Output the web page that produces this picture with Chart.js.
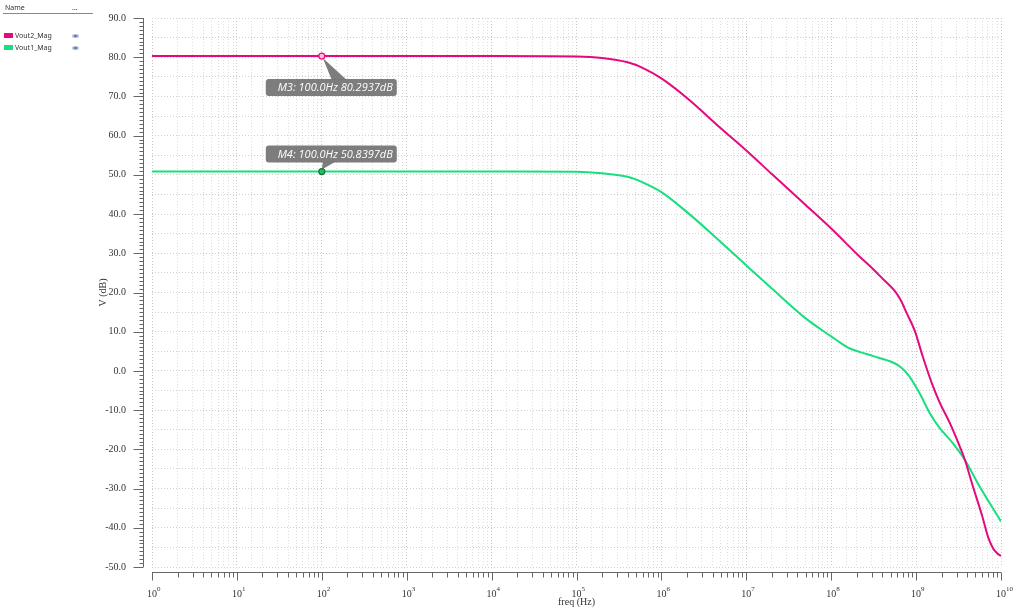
<!DOCTYPE html>
<html>
<head>
<meta charset="utf-8">
<script src="https://cdn.jsdelivr.net/npm/chart.js@4"></script>
<style>
  body { margin: 0; background: #fff; }
  #wrap { position: relative; width: 1023px; height: 614px; }
  #legend { position: absolute; left: 0; top: 0; width: 96px; font-family: "Noto Sans", sans-serif; font-size: 7px; color: #333; }
  #legend .head { position: absolute; left: 3px; top: 3px; width: 90px; height: 10px; border-bottom: 1px solid #888; }
  #legend .head span { position: absolute; top: 0; }
  #legend .row { position: absolute; left: 4px; height: 8px; line-height: 8px; }
  #legend .sw { position: absolute; left: 0; top: 1px; width: 9px; height: 5px; }
  #legend .lbl { position: absolute; left: 11px; top: 0; white-space: nowrap; }
  #legend .eye { position: absolute; left: 68px; top: 2px; width: 7px; height: 4px; border-radius: 50%; background: #b3bdd8; }
  #legend .eye::after { content: ""; position: absolute; left: 2px; top: 1px; width: 3px; height: 2px; border-radius: 50%; background: #5a6ea3; }
</style>
</head>
<body>
<div id="wrap">
  <canvas id="bode-chart" width="1023" height="614"></canvas>
  <div id="legend">
    <div class="head"><span style="left:2px">Name</span><span style="left:69px">...</span></div>
  </div>
</div>
<script>
// Vout2 magnitude trace (Hz, dB)
var vout2Freq = [1, 10, 100, 1e3, 1e4, 1e5, 2e5, 4e5, 6e5, 1e6, 2e6, 5e6, 1e7, 2e7, 5e7,
  1e8, 2.2e8, 3e8, 4e8, 5.6e8, 6.6e8, 7.8e8, 9.7e8, 1.2e9, 1.53e9, 1.91e9, 2.5e9, 3.29e9,
  3.76e9, 4.69e9, 5.97e9, 7.03e9, 8.05e9, 9e9, 1e10];
var vout2Mag = [80.29, 80.29, 80.29, 80.29, 80.29, 80.17, 79.8, 78.7, 77.3, 74.6, 69.6, 61.9, 56.2, 50.2, 42.3,
  36.3, 29.0, 26.3, 23.6, 20.4, 18.0, 14.6, 10.1, 3.6, -3.1, -8.2, -13.3, -19.4,
  -22.7, -29.6, -36.8, -42.3, -45.2, -46.5, -47.2];

// Vout1 magnitude trace (Hz, dB)
var vout1Freq = [1, 10, 100, 1e3, 1e4, 1e5, 2e5, 4e5, 6e5, 1e6, 2e6, 5e6, 1e7, 2e7, 5e7,
  1e8, 1.3e8, 1.6e8, 2.2e8, 3e8, 3.7e8, 5e8, 6.4e8, 8.2e8, 1.1e9, 1.45e9, 1.9e9,
  2.7e9, 3.76e9, 5.6e9, 7.5e9, 1e10];
var vout1Mag = [50.84, 50.84, 50.84, 50.84, 50.84, 50.8, 50.4, 49.5, 48.1, 45.6, 40.5, 32.9, 26.9, 21.0, 13.4,
  8.8, 7.1, 5.9, 4.8, 3.9, 3.3, 2.4, 1.2, -1.2, -5.7, -10.8, -14.6,
  -18.4, -22.7, -29.5, -34.0, -38.4];

var seriesNames = ['Vout2_Mag', 'Vout1_Mag'];
var seriesColors = ['#e5097f', '#17df80'];

// markers
var markerNames = ['M3', 'M4'];
var markerFreqs = [100, 100];
var markerVals = [80.2937, 50.8397];

var yTickValues = [90, 80, 70, 60, 50, 40, 30, 20, 10, 0, -10, -20, -30, -40, -50];

function pts(fs, vals) {
  return fs.map(function (f, i) { return { x: f, y: vals[i] }; });
}

// build legend rows
var legend = document.getElementById('legend');
seriesNames.forEach(function (name, i) {
  var row = document.createElement('div');
  row.className = 'row';
  row.style.top = (32 + i * 12) + 'px';
  row.innerHTML = '<span class="sw" style="background:' + seriesColors[i] + '"></span>' +
    '<span class="lbl">' + name + '</span><span class="eye"></span>';
  legend.appendChild(row);
});

var axisPlugin = {
  id: 'axisDeco',
  afterDraw: function (chart) {
    var c = chart.ctx, a = chart.chartArea;
    var xs = chart.scales.x, ys = chart.scales.y;
    c.save();
    c.strokeStyle = '#666';
    c.lineWidth = 1;

    // y axis line + ticks
    var ax = Math.round(a.left - 9) + 0.5;
    c.beginPath();
    c.moveTo(ax, a.top); c.lineTo(ax, a.bottom);
    for (var v = -50; v <= 90; v++) {
      var y = Math.round(ys.getPixelForValue(v)) + 0.5;
      var len = (v % 10 === 0) ? 10 : 4;
      c.moveTo(ax - len, y); c.lineTo(ax, y);
    }
    c.stroke();

    // x axis line + ticks
    var ay = Math.round(a.bottom + 5) + 0.5;
    c.beginPath();
    c.moveTo(a.left, ay); c.lineTo(a.right, ay);
    for (var d = 0; d <= 10; d++) {
      for (var m = 1; m <= 9; m++) {
        if (d === 10 && m > 1) break;
        var x = Math.round(xs.getPixelForValue(m * Math.pow(10, d))) + 0.5;
        var l = (m === 1) ? 8 : 5;
        c.moveTo(x, ay); c.lineTo(x, ay + l);
      }
    }
    c.stroke();

    // decade labels 10^n
    c.fillStyle = '#333';
    c.textBaseline = 'alphabetic';
    for (var e = 0; e <= 10; e++) {
      var px = xs.getPixelForValue(Math.pow(10, e));
      c.font = '10px "Liberation Serif", serif';
      c.textAlign = 'center';
      c.fillText('10', px, 597);
      var w = c.measureText('10').width;
      c.font = '7px "Liberation Serif", serif';
      c.textAlign = 'left';
      c.fillText(String(e), px + w / 2, 591);
    }

    // markers with callouts
    markerNames.forEach(function (name, i) {
      var mx = xs.getPixelForValue(markerFreqs[i]);
      var my = ys.getPixelForValue(markerVals[i]);
      var below = i === 0;
      var bx = mx - 56, bw = 131, bh = 17;
      var by = below ? my + 23 : my - 26;
      c.fillStyle = 'rgba(118,118,118,0.95)';
      c.beginPath();
      if (below) {
        c.moveTo(mx + 1, my + 2); c.lineTo(mx + 25, by + 1); c.lineTo(mx + 10, by + 1);
      } else {
        c.moveTo(mx, my - 2); c.lineTo(mx + 14, by + bh - 1); c.lineTo(mx + 1, by + bh - 1);
      }
      c.closePath();
      c.fill();
      c.beginPath();
      c.roundRect(bx, by, bw, bh, 3);
      c.fill();
      c.fillStyle = '#fff';
      c.font = 'italic 11px "Open Sans", sans-serif';
      c.textAlign = 'right';
      c.textBaseline = 'middle';
      c.fillText(name + ': 100.0Hz ' + markerVals[i].toFixed(4) + 'dB', bx + bw - 4, by + bh / 2 + 0.5);

      c.beginPath();
      c.arc(mx, my, 3, 0, Math.PI * 2);
      c.fillStyle = i === 0 ? '#f6c0dc' : '#2fb868';
      c.fill();
      c.lineWidth = 1.2;
      c.strokeStyle = i === 0 ? seriesColors[0] : '#1b6e3d';
      c.stroke();
    });
    c.restore();
  }
};

new Chart(document.getElementById('bode-chart'), {
  type: 'line',
  data: {
    datasets: [{
      label: seriesNames[0],
      data: pts(vout2Freq, vout2Mag),
      borderColor: seriesColors[0],
      borderWidth: 2,
      pointRadius: 0,
      cubicInterpolationMode: 'monotone'
    }, {
      label: seriesNames[1],
      data: pts(vout1Freq, vout1Mag),
      borderColor: seriesColors[1],
      borderWidth: 2,
      pointRadius: 0,
      cubicInterpolationMode: 'monotone'
    }]
  },
  options: {
    responsive: false,
    animation: false,
    devicePixelRatio: 1,
    layout: { padding: { left: 94, top: 18, right: 22, bottom: 0 } },
    plugins: { legend: { display: false }, tooltip: { enabled: false } },
    scales: {
      x: {
        type: 'logarithmic',
        min: 1,
        max: 1e10,
        afterFit: function (s) { s.height = 47; },
        border: { display: false, dash: [1, 2] },
        grid: {
          drawTicks: false,
          color: function (ctx) {
            var v = ctx.tick && ctx.tick.value;
            var lg = Math.log10(v);
            return Math.abs(lg - Math.round(lg)) < 1e-6 ? '#c8c8c8' : '#dedede';
          }
        },
        ticks: { display: false },
        title: {
          display: true,
          text: 'freq (Hz)',
          color: '#333',
          font: { family: 'Liberation Serif', size: 10 },
          padding: { top: 0, bottom: 6 }
        }
      },
      y: {
        min: -50,
        max: 90,
        afterFit: function (s) { s.width = 58; },
        border: { display: false, dash: [1, 2] },
        grid: { drawTicks: true, tickLength: 22, tickColor: 'rgba(0,0,0,0)', color: '#d0d0d0' },
        ticks: {
          stepSize: 5,
          padding: 4,
          color: '#333',
          font: { family: 'Liberation Serif', size: 10 },
          callback: function (v) { return yTickValues.indexOf(v) >= 0 ? v.toFixed(1) : ''; }
        },
        title: {
          display: true,
          text: 'V (dB)',
          color: '#333',
          font: { family: 'Liberation Serif', size: 10 },
          padding: { top: 3, bottom: 0 }
        }
      }
    }
  },
  plugins: [axisPlugin]
});
</script>
</body>
</html>
